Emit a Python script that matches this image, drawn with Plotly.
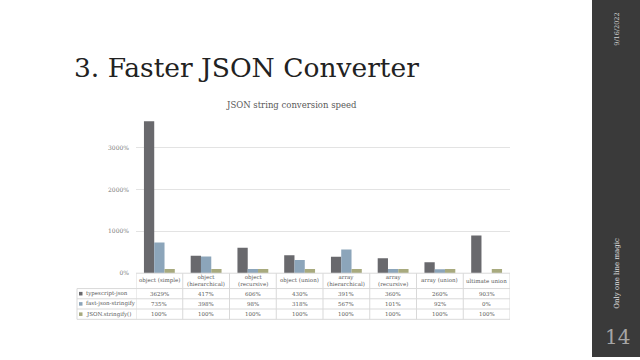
import plotly.graph_objects as go

categories = ["object (simple)", "object<br>(hierarchical)", "object<br>(recursive)", "object (union)",
              "array<br>(hierarchical)", "array<br>(recursive)", "array (union)", "ultimate union"]
series_names = ["typescript-json", "fast-json-stringify", "JSON.stringify()"]
typescript_json = [3629, 417, 606, 430, 391, 360, 260, 903]
fast_json_stringify = [735, 398, 98, 318, 567, 101, 92, 0]
json_stringify = [100, 100, 100, 100, 100, 100, 100, 100]
series_values = [typescript_json, fast_json_stringify, json_stringify]
colors = ["#69696d", "#8ca5ba", "#a8aa7e"]
ytick_vals = [0, 1000, 2000, 3000]
ytick_text = ["0%", "1000%", "2000%", "3000%"]

W, H = 640, 360
def px(x): return x / W
def py(y): return 1 - y / H

x_idx = list(range(len(categories)))

fig = go.Figure()
for name, vals, c in zip(series_names, series_values, colors):
    fig.add_trace(go.Bar(x=x_idx, y=vals, name=name, marker=dict(color=c, line=dict(width=0))))

FONT = "DejaVu Serif"
x_left, x_right = 136, 510
y_zero = 275.5
ymax = 3750
y_top = y_zero - ymax * 0.0422

fig.update_layout(
    width=W, height=H, margin=dict(l=0, r=0, t=0, b=0),
    paper_bgcolor="white", plot_bgcolor="white",
    barmode="group", bargap=0.34, bargroupgap=0,
    showlegend=False,
    font=dict(family=FONT, color="#595959"),
    xaxis=dict(domain=[px(x_left), px(x_right)], range=[-0.5, 7.5], showticklabels=False,
               showgrid=False, zeroline=False, showline=False, ticks=""),
    yaxis=dict(domain=[py(y_zero), py(y_top)], range=[0, ymax], tickvals=ytick_vals, ticktext=ytick_text,
               showgrid=True, gridcolor="#e3e3e3", gridwidth=1, zeroline=False, showline=False,
               tickfont=dict(size=6, color="#7a7a7a", family=FONT), ticklen=0, ticklabelstandoff=6),
)

shapes = []
# right sidebar
shapes.append(dict(type="rect", xref="paper", yref="paper", x0=px(592), x1=1, y0=0, y1=1,
                   fillcolor="#3a3a3a", line=dict(width=0), layer="below"))
line_c = "#d9d9d9"
# axis / header top line
shapes.append(dict(type="line", xref="paper", yref="paper", x0=px(x_left), x1=px(x_right),
                   y0=py(y_zero), y1=py(y_zero), line=dict(color=line_c, width=1)))
row_ys = [291, 301.3, 311.6, 322]
for ry in row_ys:
    shapes.append(dict(type="line", xref="paper", yref="paper", x0=px(77), x1=px(x_right),
                       y0=py(ry), y1=py(ry), line=dict(color=line_c, width=1)))
shapes.append(dict(type="line", xref="paper", yref="paper", x0=px(77), x1=px(77),
                   y0=py(row_ys[0]), y1=py(row_ys[-1]), line=dict(color=line_c, width=1)))
for i in range(len(categories) + 1):
    shapes.append(dict(type="line", xref="x", yref="paper", x0=i - 0.5, x1=i - 0.5,
                       y0=py(y_zero), y1=py(row_ys[-1]), line=dict(color=line_c, width=1)))

annotations = []
# slide title
annotations.append(dict(text="3. Faster JSON Converter", xref="paper", yref="paper", x=px(72), y=py(68),
                        xanchor="left", yanchor="middle", showarrow=False,
                        font=dict(family=FONT, size=26.5, color="#222222")))
# chart title
annotations.append(dict(text="JSON string conversion speed", xref="paper", yref="paper", x=px(291), y=py(106),
                        xanchor="center", yanchor="middle", showarrow=False,
                        font=dict(family=FONT, size=8.5, color="#595959")))
# header labels
for i, cat in enumerate(categories):
    annotations.append(dict(text=cat, xref="x", yref="paper", x=i, y=py((y_zero + row_ys[0]) / 2),
                            xanchor="center", yanchor="middle", showarrow=False,
                            font=dict(family=FONT, size=5.5, color="#595959")))
# table rows
for r, (name, vals, c) in enumerate(zip(series_names, series_values, colors)):
    yc = (row_ys[r] + row_ys[r + 1]) / 2
    shapes.append(dict(type="rect", xref="paper", yref="paper", x0=px(79), x1=px(82.5),
                       y0=py(yc + 1.8), y1=py(yc - 1.8), fillcolor=c, line=dict(width=0)))
    annotations.append(dict(text=name, xref="paper", yref="paper", x=px(84), y=py(yc), xanchor="left",
                            yanchor="middle", showarrow=False,
                            font=dict(family=FONT, size=5.5, color="#595959")))
    for i, v in enumerate(vals):
        annotations.append(dict(text=f"{v}%", xref="x", yref="paper", x=i, y=py(yc), xanchor="center",
                                yanchor="middle", showarrow=False,
                                font=dict(family=FONT, size=5.5, color="#595959")))
# sidebar text
annotations.append(dict(text="9/16/2022", xref="paper", yref="paper", x=px(617), y=py(30), textangle=-90,
                        xanchor="center", yanchor="middle", showarrow=False,
                        font=dict(family=FONT, size=6.5, color="#d0d0d0")))
annotations.append(dict(text="Only one line magic", xref="paper", yref="paper", x=px(617), y=py(276),
                        textangle=-90, xanchor="center", yanchor="middle", showarrow=False,
                        font=dict(family=FONT, size=7, color="#e0e0e0")))
annotations.append(dict(text="14", xref="paper", yref="paper", x=px(617), y=py(340), xanchor="center",
                        yanchor="middle", showarrow=False,
                        font=dict(family=FONT, size=20, color="#a6a6a6")))

fig.update_layout(shapes=shapes, annotations=annotations)
fig.write_html("out.html")
